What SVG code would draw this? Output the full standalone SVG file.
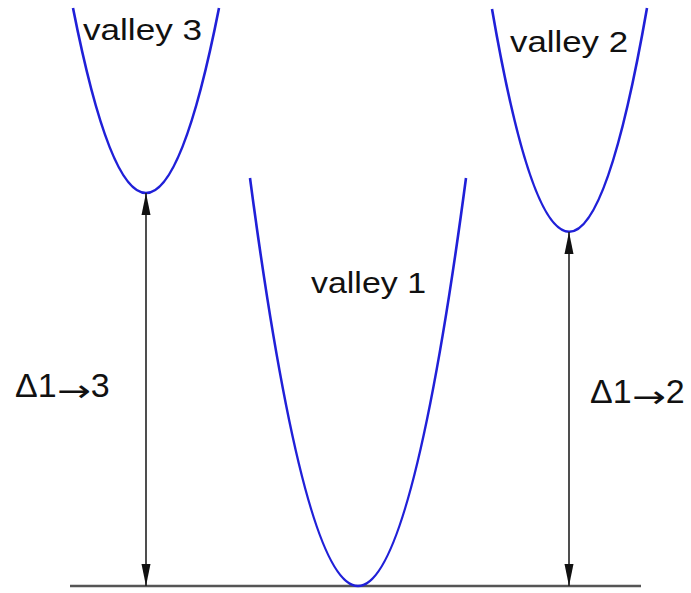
<svg xmlns="http://www.w3.org/2000/svg" width="691" height="593" viewBox="0 0 691 593">
<style>
.curve{fill:none;stroke:#2020d8;stroke-width:2.6}
.arr{stroke:#222;stroke-width:1.6;fill:none}
.lbl{font-family:"Liberation Sans",Arial,sans-serif;fill:#111}
.ar{font-family:"DejaVu Sans",sans-serif;font-size:30px}
</style>
<defs>
<marker id="ah" viewBox="0 0 22 10" refX="22" refY="5" markerWidth="22" markerHeight="10" markerUnits="userSpaceOnUse" orient="auto-start-reverse">
<path d="M0,0.5 L22,5 L0,9.5 Z" fill="#111"/>
</marker>
</defs>
<rect width="691" height="593" fill="#fff"/>
<g id="baseline"><line x1="70" y1="586" x2="641" y2="586" stroke="#555" stroke-width="2.5"/></g>
<g id="valley1">
<path class="curve" d="M250,178 Q358,994 466,178"/>
<text class="lbl" x="311" y="293" font-size="30" textLength="115" lengthAdjust="spacingAndGlyphs">valley 1</text>
</g>
<g id="valley3">
<path class="curve" d="M73,8 Q146,378 219,8"/>
<text class="lbl" x="83" y="40" font-size="30" textLength="119" lengthAdjust="spacingAndGlyphs">valley 3</text>
</g>
<g id="valley2">
<path class="curve" d="M492,9 Q569,455 647,8"/>
<text class="lbl" x="510" y="52" font-size="30" textLength="118" lengthAdjust="spacingAndGlyphs">valley 2</text>
</g>
<g id="connectors">
<line class="arr" x1="146" y1="193" x2="146" y2="586" marker-start="url(#ah)" marker-end="url(#ah)"/>
<line class="arr" x1="569" y1="232" x2="569" y2="586" marker-start="url(#ah)" marker-end="url(#ah)"/>
</g>
<g id="labels">
<text class="lbl" x="15" y="397" font-size="34">Δ1<tspan class="ar" dy="4" textLength="34" lengthAdjust="spacingAndGlyphs">→</tspan><tspan dy="-4">3</tspan></text>
<text class="lbl" x="590" y="403" font-size="34">Δ1<tspan class="ar" dy="4" textLength="34" lengthAdjust="spacingAndGlyphs">→</tspan><tspan dy="-4">2</tspan></text>
</g>
</svg>
